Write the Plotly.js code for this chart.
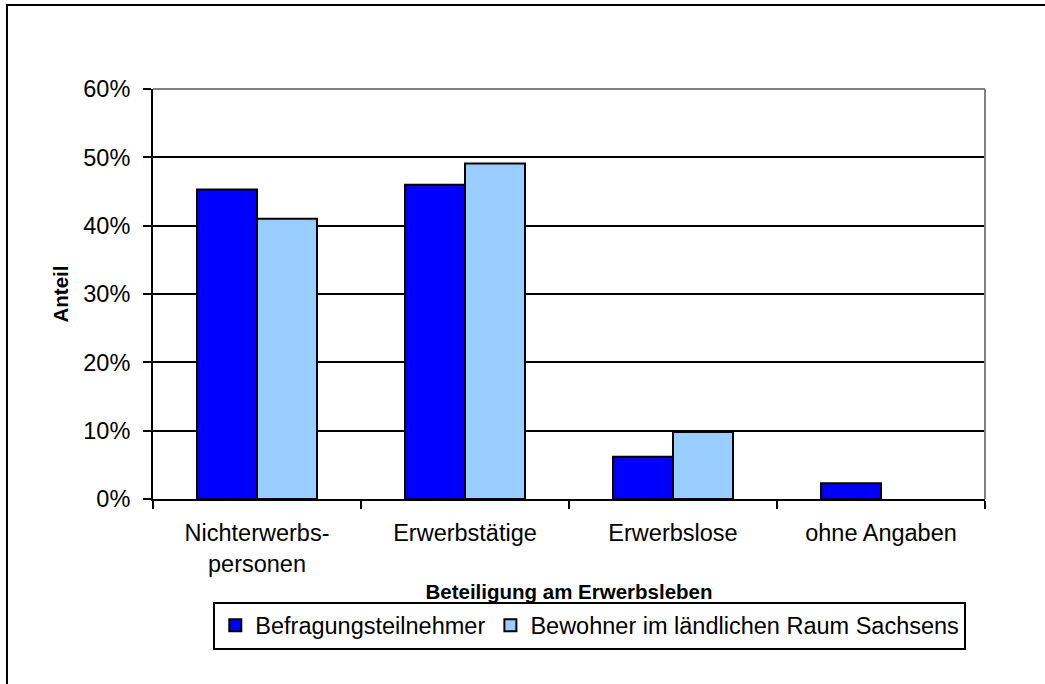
<!DOCTYPE html>
<html>
<head>
<meta charset="utf-8">
<script src="https://cdn.plot.ly/plotly-3.0.1.min.js"></script>
<style>html,body{margin:0;padding:0;background:#fff;}#chart{width:1045px;height:684px;}</style>
</head>
<body>
<div id="chart"></div>
<script>
const categories = ["Nichterwerbs-<br>personen", "Erwerbstätige", "Erwerbslose", "ohne Angaben"];
const befragungsteilnehmer = [45.3, 46.0, 6.2, 2.3];
const bewohnerSachsen = [41.0, 49.1, 9.8, 0];
const seriesNames = ["Befragungsteilnehmer", "Bewohner im ländlichen Raum Sachsens"];
const yTickVals = [0, 10, 20, 30, 40, 50, 60];
const yTickText = ["0%", "10%", "20%", "30%", "40%", "50%", "60%"];

const FONT = "Liberation Sans, Arial, sans-serif";
const lineW = arr => arr.map(v => (v === 0 ? 0 : 2));

const traces = [
  {type: "bar", name: seriesNames[0], x: categories, y: befragungsteilnehmer,
   marker: {color: "#0000FF", line: {color: "#000000", width: lineW(befragungsteilnehmer)}}, hoverinfo: "skip"},
  {type: "bar", name: seriesNames[1], x: categories, y: bewohnerSachsen,
   marker: {color: "#99CCFF", line: {color: "#000000", width: lineW(bewohnerSachsen)}}, hoverinfo: "skip"}
];

const layout = {
  width: 1045, height: 684,
  margin: {l: 153, r: 60, t: 89, b: 185},
  paper_bgcolor: "#ffffff", plot_bgcolor: "#ffffff",
  font: {family: FONT, color: "#000000", size: 23},
  barmode: "group", bargap: 0.423, bargroupgap: 0,
  showlegend: true,
  legend: {orientation: "h", x: 0.525, xanchor: "center", y: -0.25, yanchor: "top",
           bordercolor: "#000000", borderwidth: 2, font: {size: 23.5, family: FONT},
           traceorder: "normal", itemwidth: 30},
  xaxis: {
    type: "category", tickson: "boundaries", ticks: "outside", ticklen: 8, tickwidth: 2, tickcolor: "#000",
    showline: true, linecolor: "#000000", linewidth: 2, showgrid: false, zeroline: false,
    tickfont: {size: 23.5, family: FONT}, ticklabelstandoff: 12,
    title: {text: "<b>Beteiligung am Erwerbsleben</b>", font: {size: 20.5, family: FONT}, standoff: 9},
    fixedrange: true
  },
  yaxis: {
    range: [0, 60], tickvals: yTickVals, ticktext: yTickText,
    ticks: "outside", ticklen: 8, tickwidth: 2, tickcolor: "#000",
    showline: true, linecolor: "#000000", linewidth: 2,
    showgrid: true, gridcolor: "#000000", gridwidth: 2, zeroline: false,
    tickfont: {size: 23.5, family: FONT}, ticklabelstandoff: 8,
    title: {text: "<b>Anteil</b>", font: {size: 20.5, family: FONT}, standoff: 9},
    fixedrange: true
  },
  shapes: [
    {type: "line", xref: "paper", yref: "paper", x0: 0, x1: 1, y0: 1, y1: 1,
     line: {color: "#808080", width: 2}, layer: "above"},
    {type: "line", xref: "paper", yref: "paper", x0: 1, x1: 1, y0: 0, y1: 1,
     line: {color: "#808080", width: 2}, layer: "above"},
    {type: "rect", xref: "paper", yref: "paper", x0: -0.1755, x1: 1.2, y0: -0.6, y1: 1.2049,
     line: {color: "#000000", width: 2}, fillcolor: "rgba(0,0,0,0)", layer: "above"}
  ]
};

Plotly.newPlot("chart", traces, layout, {displayModeBar: false, staticPlot: true});
</script>
</body>
</html>
